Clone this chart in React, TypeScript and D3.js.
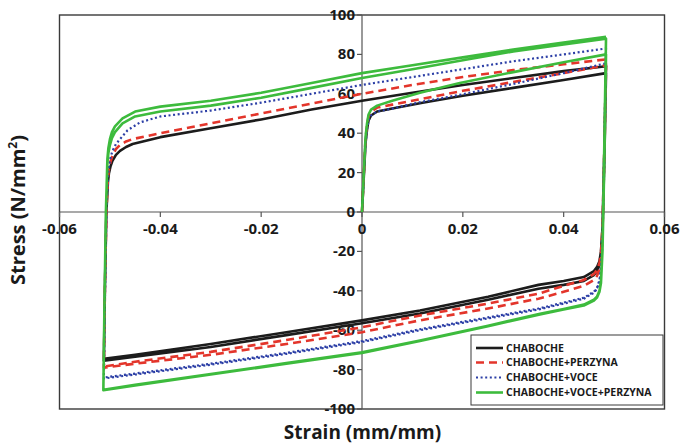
import React from 'react';
import * as d3 from 'd3';

type Pt = [number, number];

// strain (mm/mm), stress (N/mm2)
const chaboche: Pt[] = [
  // first loading
  [0, 0], [0.0007, 35], [0.001, 42], [0.0013, 46.5], [0.0018, 49], [0.003, 51], [0.006, 52.5], [0.012, 55.5], [0.02, 59], [0.03, 63], [0.04, 67], [0.0484, 70.5],
  // unloading / compression
  [0.0481, 30], [0.0477, -10], [0.0474, -22], [0.0471, -27], [0.0466, -30], [0.046, -32], [0.044, -35], [0.04, -37], [0.035, -39], [0.025, -44.5], [0.0115, -51.5], [0, -56.5], [-0.015, -62.5], [-0.03, -68.5], [-0.045, -73.5], [-0.0512, -75.5],
  // reloading / tension
  [-0.051, -40], [-0.0507, 0], [-0.0504, 15], [-0.0502, 19.5], [-0.0499, 23], [-0.0495, 26], [-0.0488, 29], [-0.048, 31], [-0.0468, 33], [-0.0455, 34.5], [-0.04, 38], [-0.03, 42.5], [-0.02, 47], [-0.01, 52], [0, 56.5], [0.01, 60.5], [0.02, 64.5], [0.03, 68], [0.04, 71.5], [0.0484, 74],
  // second unloading
  [0.0481, 34], [0.0477, -8], [0.0474, -20], [0.0471, -25], [0.0466, -28], [0.046, -30], [0.044, -33], [0.04, -35], [0.035, -37], [0.025, -43], [0.0115, -50], [0, -55], [-0.015, -61], [-0.03, -67], [-0.045, -72.5], [-0.0512, -74.5],
];

const chabochePerzyna: Pt[] = [
  [0, 0], [0.0007, 37], [0.001, 44], [0.0013, 48.5], [0.0018, 51], [0.003, 53], [0.006, 54.5], [0.012, 57.5], [0.02, 61.5], [0.03, 66], [0.04, 70.5], [0.0484, 74.5],
  [0.0481, 32], [0.0477, -10], [0.0474, -24], [0.0471, -29], [0.0466, -32.5], [0.046, -34.5], [0.044, -37.5], [0.04, -40.5], [0.035, -44], [0.025, -49], [0.0115, -55], [0, -61], [-0.015, -67], [-0.03, -72.5], [-0.045, -77], [-0.0512, -79],
  [-0.051, -40], [-0.0507, 0], [-0.0504, 17], [-0.0502, 21.5], [-0.0499, 25.5], [-0.0495, 28.5], [-0.0488, 32], [-0.048, 34], [-0.0468, 35.8], [-0.0455, 37], [-0.04, 40], [-0.03, 45], [-0.02, 50], [-0.01, 55], [0, 60], [0.01, 64.5], [0.02, 68.5], [0.03, 72], [0.04, 75], [0.0484, 77.5],
  [0.0481, 36], [0.0477, -8], [0.0474, -21], [0.0471, -26], [0.0466, -29.5], [0.046, -31.5], [0.044, -34.5], [0.04, -37.5], [0.035, -41.5], [0.025, -46.5], [0.0115, -52.5], [0, -58.5], [-0.015, -65], [-0.03, -71], [-0.045, -76], [-0.0512, -78.5],
];

const chabocheVoce: Pt[] = [
  [0, 0], [0.0007, 35], [0.001, 42], [0.0013, 46.5], [0.0018, 49], [0.003, 51], [0.006, 52.5], [0.012, 56], [0.0194, 59.5], [0.03, 65], [0.04, 70.5], [0.0484, 75.5],
  [0.0481, 30], [0.0477, -15], [0.0474, -30], [0.0471, -35.5], [0.0466, -39], [0.046, -41], [0.044, -44], [0.04, -46.5], [0.035, -49.5], [0.025, -54], [0.0115, -60], [0, -66], [-0.015, -72], [-0.03, -77.5], [-0.045, -82.5], [-0.0512, -84.5],
  [-0.051, -45], [-0.0507, 0], [-0.0504, 18], [-0.0502, 23], [-0.0499, 27.5], [-0.0495, 31], [-0.0488, 34.5], [-0.048, 37], [-0.0465, 41.5], [-0.044, 45.5], [-0.04, 48.5], [-0.03, 51.5], [-0.02, 55.5], [-0.01, 60], [0, 64.5], [0.01, 68.5], [0.02, 72.5], [0.03, 76.5], [0.04, 80], [0.0484, 83],
  [0.0481, 40], [0.0477, -12], [0.0474, -28], [0.0471, -34.5], [0.0466, -38.5], [0.046, -40.5], [0.044, -43.5], [0.04, -46], [0.035, -49], [0.025, -53.5], [0.0115, -59.5], [0, -65.5], [-0.015, -71.5], [-0.03, -77], [-0.045, -82], [-0.0512, -84],
];

const chabocheVocePerzyna: Pt[] = [
  [0, 0], [0.0007, 38], [0.001, 45], [0.0013, 49.5], [0.0018, 52], [0.003, 54], [0.006, 56.5], [0.0115, 60.5], [0.0194, 65.5], [0.03, 71], [0.04, 76], [0.0484, 80],
  [0.0481, 30], [0.0477, -20], [0.0474, -36], [0.0471, -40.5], [0.0466, -43.5], [0.046, -45], [0.044, -47.5], [0.04, -49.5], [0.0353, -52], [0.025, -58], [0.0115, -65.5], [0, -71.5], [-0.015, -77], [-0.03, -82.5], [-0.045, -88], [-0.0513, -90.5],
  [-0.0511, -50], [-0.0508, 0], [-0.0505, 25], [-0.0503, 30], [-0.05, 34], [-0.0496, 37.5], [-0.049, 40.5], [-0.0475, 45], [-0.045, 48.5], [-0.04, 51], [-0.03, 54], [-0.02, 58], [-0.01, 63], [0, 68], [0.01, 72.5], [0.02, 77], [0.03, 81.5], [0.04, 85], [0.0484, 88],
  [0.0481, 40], [0.0477, -18], [0.0474, -35], [0.0471, -40], [0.0466, -43], [0.046, -44.5], [0.044, -47], [0.04, -49.2], [0.0353, -51.7], [0.025, -57.7], [0.0115, -65.2], [0, -71.2], [-0.015, -76.7], [-0.03, -82.2], [-0.045, -87.7], [-0.0513, -90.2],
  [-0.0511, -50], [-0.0508, 0], [-0.0505, 27], [-0.0503, 32.5], [-0.05, 37], [-0.0496, 40.5], [-0.049, 43.5], [-0.0475, 47.5], [-0.045, 51], [-0.04, 53.5], [-0.03, 56.5], [-0.02, 60.5], [-0.01, 65.5], [0, 70.5], [0.01, 74.5], [0.02, 78.5], [0.03, 82.5], [0.04, 86], [0.0484, 89],
];

const xTicks = [-0.06, -0.04, -0.02, 0, 0.02, 0.04, 0.06];
const yTicks = [100, 80, 60, 40, 20, 0, -20, -40, -60, -80, -100];

const series = [
  { name: 'CHABOCHE', data: chaboche, color: '#1c1c1c', width: 2.6, dash: '' },
  { name: 'CHABOCHE+PERZYNA', data: chabochePerzyna, color: '#e3352b', width: 2.6, dash: '8 5' },
  { name: 'CHABOCHE+VOCE', data: chabocheVoce, color: '#2c3fa6', width: 2.2, dash: '2 2.6' },
  { name: 'CHABOCHE+VOCE+PERZYNA', data: chabocheVocePerzyna, color: '#3dbb3d', width: 2.6, dash: '' },
];

const font = '"Open Sans", "Liberation Sans", Arial, sans-serif';

export default function App() {
  const W = 685;
  const H = 446;
  const left = 59.5, right = 664.5, top = 15, bottom = 409;

  const x = d3.scaleLinear().domain([-0.06, 0.06]).range([left, right]);
  const y = d3.scaleLinear().domain([-100, 100]).range([bottom, top]);
  const x0 = x(0);
  const y0 = y(0);

  const line = d3
    .line<Pt>()
    .x(d => x(d[0]))
    .y(d => y(d[1]));

  const legendX = 471, legendY = 335;
  const rowY = [348, 362.5, 377.5, 392.5];

  return (
    <svg width={W} height={H} style={{ position: 'absolute', left: 0, top: 0, background: '#fff' }} fontFamily={font}>
      <rect x={0} y={0} width={W} height={H} fill="#fff" />
      {/* plot frame */}
      <rect x={left} y={top} width={right - left} height={bottom - top} fill="none" stroke="#3a3a3a" strokeWidth={1.4} />
      {/* axes through zero */}
      <line x1={left} x2={right} y1={y0} y2={y0} stroke="#555" strokeWidth={1.2} />
      <line x1={x0} x2={x0} y1={top} y2={bottom} stroke="#555" strokeWidth={1.2} />
      {yTicks.map(t => (
        <g key={'y' + t}>
          <line x1={x0 - 5} x2={x0} y1={y(t)} y2={y(t)} stroke="#555" strokeWidth={1.2} />
          <text x={x0 - 7} y={y(t)} dy="0.33em" textAnchor="end" fontSize={15} fontWeight={700} fill="#1a1a1a">
            {t}
          </text>
        </g>
      ))}
      {xTicks.map(t => (
        <g key={'x' + t}>
          <line x1={x(t)} x2={x(t)} y1={y0} y2={y0 + 5} stroke="#555" strokeWidth={1.2} />
          <text x={x(t)} y={y0 + 22} textAnchor="middle" fontSize={15} fontWeight={700} fill="#1a1a1a">
            {t}
          </text>
        </g>
      ))}
      {series.map(s => (
        <path
          key={s.name}
          d={line(s.data) || ''}
          fill="none"
          stroke={s.color}
          strokeWidth={s.width}
          strokeDasharray={s.dash || undefined}
          strokeLinejoin="round"
        />
      ))}
      {/* axis titles */}
      <text x={(left + right) / 2 + 0.5} y={439} textAnchor="middle" fontSize={19} fontWeight={700} fill="#1a1a1a">
        Strain (mm/mm)
      </text>
      <text
        transform={`translate(25,${(top + bottom) / 2 - 2}) rotate(-90)`}
        textAnchor="middle"
        fontSize={20}
        fontWeight={700}
        fill="#1a1a1a"
      >
        Stress (N/mm<tspan baselineShift="super" fontSize={12}>2</tspan>)
      </text>
      {/* legend */}
      <rect x={legendX} y={legendY} width={192} height={70} fill="#fff" stroke="#3a3a3a" strokeWidth={1} />
      {series.map((s, i) => (
        <g key={'lg' + s.name}>
          <line
            x1={476}
            x2={503}
            y1={rowY[i]}
            y2={rowY[i]}
            stroke={s.color}
            strokeWidth={s.width}
            strokeDasharray={s.dash || undefined}
          />
          <text x={506} y={rowY[i]} dy="0.35em" fontSize={10.5} fontWeight={700} fill="#1a1a1a">
            {s.name}
          </text>
        </g>
      ))}
    </svg>
  );
}
